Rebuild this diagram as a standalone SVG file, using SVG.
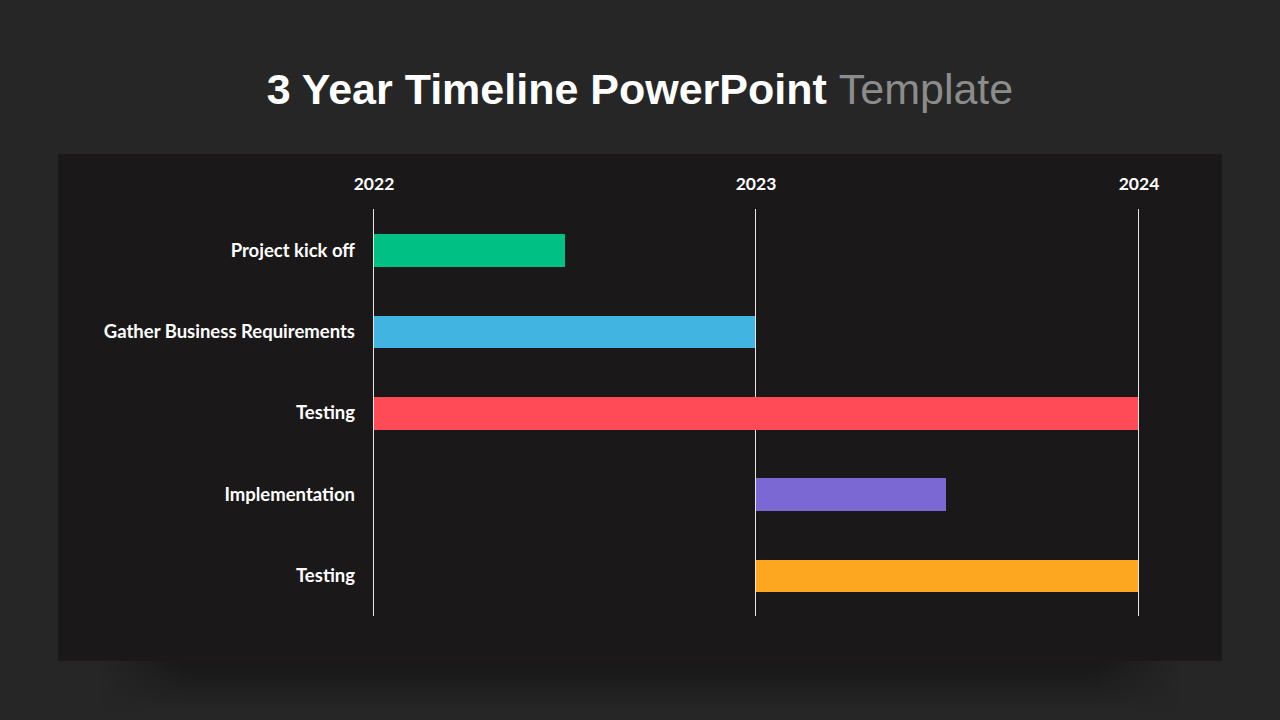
<svg xmlns="http://www.w3.org/2000/svg" width="1280" height="720" viewBox="0 0 1280 720">
<defs>
<linearGradient id="sv" x1="0" y1="0" x2="0" y2="1">
<stop offset="0" stop-color="#161616" stop-opacity="0.9"/>
<stop offset="1" stop-color="#161616" stop-opacity="0"/>
</linearGradient>
<linearGradient id="sx" x1="0" y1="0" x2="1" y2="0">
<stop offset="0" stop-color="#fff" stop-opacity="0"/>
<stop offset="0.08" stop-color="#fff" stop-opacity="1"/>
<stop offset="0.92" stop-color="#fff" stop-opacity="1"/>
<stop offset="1" stop-color="#fff" stop-opacity="0"/>
</linearGradient>
<mask id="mx" maskUnits="userSpaceOnUse" x="0" y="0" width="1280" height="720">
<rect x="100" y="661" width="1080" height="50" fill="url(#sx)"/>
</mask>
<style>
.lbl{font-family:Lato,"Open Sans","Liberation Sans",sans-serif;font-weight:700;font-size:18.5px;fill:#ffffff;text-anchor:end}
.yr{font-family:Lato,"Open Sans","Liberation Sans",sans-serif;font-weight:700;font-size:17.5px;fill:#ffffff;text-anchor:middle}
.grid{stroke:#e6e6e6;stroke-width:1}
</style>
</defs>
<rect x="0" y="0" width="1280" height="720" fill="#262626"/>
<text x="640" y="104" text-anchor="middle" font-family="Liberation Sans,Arial,sans-serif" font-size="43" font-weight="700" fill="#ffffff">3 Year Timeline PowerPoint <tspan font-weight="400" fill="#8c8c8c">Template</tspan></text>
<rect x="100" y="661" width="1080" height="50" fill="url(#sv)" mask="url(#mx)"/>
<rect x="58" y="154" width="1164" height="507" fill="#1a1819"/>
<g id="years">
<text class="yr" x="374" y="190">2022</text>
<text class="yr" x="756" y="190">2023</text>
<text class="yr" x="1139" y="190">2024</text>
</g>
<g id="connectors">
<line class="grid" x1="373.5" y1="209" x2="373.5" y2="616"/>
<line class="grid" x1="755.5" y1="209" x2="755.5" y2="616"/>
<line class="grid" x1="1138.5" y1="209" x2="1138.5" y2="616"/>
</g>
<g id="task1">
<rect x="374" y="234" width="191" height="33" fill="#00c083"/>
<text class="lbl" x="355" y="257">Project kick off</text>
</g>
<g id="task2">
<rect x="374" y="316" width="381" height="32" fill="#42b4e1"/>
<text class="lbl" x="355" y="338">Gather Business Requirements</text>
</g>
<g id="task3">
<rect x="374" y="397" width="764" height="33" fill="#ff4a57"/>
<text class="lbl" x="355" y="419">Testing</text>
</g>
<g id="task4">
<rect x="756" y="478" width="190" height="33" fill="#7b68d3"/>
<text class="lbl" x="355" y="501">Implementation</text>
</g>
<g id="task5">
<rect x="756" y="560" width="382" height="32" fill="#fca71f"/>
<text class="lbl" x="355" y="582">Testing</text>
</g>
</svg>
